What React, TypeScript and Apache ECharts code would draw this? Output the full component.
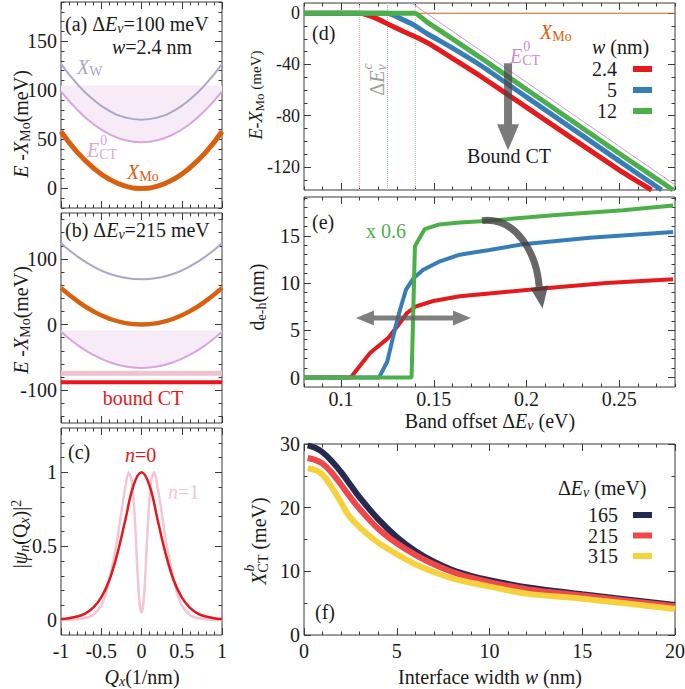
import React, { useEffect, useRef } from 'react';
import * as echarts from 'echarts';

const FONT = '"Liberation Serif", "DejaVu Serif", serif';
const INK = '#1a1a1a';
const FRAME = '#3a3a3a';

// ---------- (a)/(b): dispersions vs Q (1/nm), energies in meV ----------
const qGrid = [-1, -0.8, -0.6, -0.4, -0.2, 0, 0.2, 0.4, 0.6, 0.8, 1];
const aXMo = [58, 37, 21, 9.3, 2.3, 0, 2.3, 9.3, 21, 37, 58];
const aXW = [127, 106.5, 90.5, 79, 72.3, 70, 72.3, 79, 90.5, 106.5, 127];
const aECT = [99, 80.3, 65.7, 55.3, 49.1, 47, 49.1, 55.3, 65.7, 80.3, 99];
const aECTTop = 105;
const bXMo = [56, 36, 20.2, 9, 2.2, 0, 2.2, 9, 20.2, 36, 56];
const bXW = [124, 104, 88.5, 77.5, 71.2, 69, 71.2, 77.5, 88.5, 104, 124];
const bECT = [-11, -30.8, -46.2, -57.2, -63.8, -66, -63.8, -57.2, -46.2, -30.8, -11];
const bECTTop = -9;
const bBoundN1 = -74;
const bBoundN0 = -88;

// ---------- (c): |psi_n(Qx)|^2 ----------
const cQ0 = [-1, -0.9, -0.8, -0.7, -0.6, -0.5, -0.4, -0.3, -0.2, -0.1, 0, 0.1, 0.2, 0.3, 0.4, 0.5, 0.6, 0.7, 0.8, 0.9, 1];
const cN0 = [0.008, 0.014, 0.025, 0.045, 0.085, 0.155, 0.27, 0.45, 0.68, 0.91, 1, 0.91, 0.68, 0.45, 0.27, 0.155, 0.085, 0.045, 0.025, 0.014, 0.008];
const cQ1 = [-1, -0.9, -0.8, -0.7, -0.6, -0.5, -0.45, -0.4, -0.35, -0.3, -0.25, -0.2, -0.16, -0.12, -0.08, -0.05, -0.025, 0,
  0.025, 0.05, 0.08, 0.12, 0.16, 0.2, 0.25, 0.3, 0.35, 0.4, 0.45, 0.5, 0.6, 0.7, 0.8, 0.9, 1];
const cN1 = [0.002, 0.003, 0.006, 0.014, 0.035, 0.1, 0.17, 0.27, 0.4, 0.55, 0.73, 0.9, 1.0, 0.94, 0.66, 0.33, 0.12, 0.05,
  0.12, 0.33, 0.66, 0.94, 1.0, 0.9, 0.73, 0.55, 0.4, 0.27, 0.17, 0.1, 0.035, 0.014, 0.006, 0.003, 0.002];

// ---------- (d): E - X_Mo (meV) vs band offset (eV) ----------
const dWidths = ['2.4', '5', '12'];
const dColors = ['#e41a1c', '#377eb8', '#4daf4a'];
const dCritColors = ['#f4a3a3', '#9dbbdb', '#a3d39f'];
const dRedX = [0.08, 0.11, 0.119, 0.126, 0.134, 0.141, 0.15, 0.168, 0.175, 0.2, 0.25, 0.2674];
const dRedY = [0, 0, -4, -9, -14.5, -19, -26, -42.5, -49, -73.5, -122.5, -138];
const dBlueX = [0.08, 0.125, 0.1318, 0.139, 0.146, 0.1587, 0.1749, 0.2, 0.25, 0.2728];
const dBlueY = [0, 0, -4, -9, -15.6, -26, -40.4, -65.5, -115.5, -138];
const dGreenX = [0.08, 0.14, 0.146, 0.1749, 0.2, 0.25, 0.279];
const dGreenY = [0, 0, -6.5, -34.4, -59.5, -109.5, -138];
const dECTX = [0.136, 0.28];
const dECTY = [10, -134];
const dXMoX = [0.08, 0.28];
const dXMoY = [0, 0];
const dCrit = [0.11, 0.125, 0.14];

// ---------- (e): d_e-h (nm) vs band offset (eV) ----------
const eRed = [[0.08, 0], [0.1052, 0], [0.1156, 2.6], [0.1255, 4.2], [0.1318, 5.8], [0.1354, 6.8], [0.14, 7.5], [0.1497, 8.1],
  [0.164, 8.6], [0.18, 8.9], [0.207, 9.4], [0.243, 10.0], [0.279, 10.4]];
const eBlue = [[0.08, 0], [0.1204, 0], [0.1249, 1.7], [0.129, 5.1], [0.1318, 7.2], [0.135, 9.3], [0.139, 10.5], [0.1443, 11.4],
  [0.1533, 12.3], [0.164, 13.0], [0.18, 13.5], [0.198, 14.1], [0.234, 14.8], [0.279, 15.4]];
const eGreen = [[0.08, 0], [0.138, 0], [0.1398, 13.9], [0.145, 15.7], [0.153, 16.2], [0.164, 16.4], [0.18, 16.6],
  [0.216, 17.2], [0.252, 17.7], [0.279, 18.2]];

// ---------- (f): X_CT^b (meV) vs interface width (nm) ----------
const fOffsets = ['165', '215', '315'];
const fColors = ['#252b4f', '#f0474b', '#f6d13c'];
const fW = [0.2, 0.6, 1, 1.5, 2, 2.4, 3, 4, 5, 6, 7, 8, 9, 10, 12, 15, 20];
const f165 = [29.8, 29.4, 28.7, 27.3, 25.6, 24.0, 21.6, 18.2, 15.4, 13.2, 11.5, 10.2, 9.3, 8.6, 7.5, 6.4, 4.7];
const f215 = [27.8, 27.5, 26.9, 25.5, 23.6, 22.0, 19.8, 16.7, 14.4, 12.6, 11.1, 9.9, 9.0, 8.3, 7.2, 6.2, 4.5];
const f315 = [26.2, 25.9, 25.2, 23.2, 20.8, 18.8, 16.9, 14.5, 12.7, 11.1, 9.9, 8.9, 8.2, 7.6, 6.5, 5.7, 4.1];

// ---------- tick labels ----------
const ticksQ = [-1, -0.5, 0, 0.5, 1];
const yTicksA = [0, 50, 100, 150];
const yTicksB = [-100, 0, 100];
const yTicksC = [0, 0.5, 1];
const xTicksDE = [0.1, 0.15, 0.2, 0.25];
const yTicksD = [-120, -80, -40, 0];
const yTicksE = [0, 5, 10, 15];
const xTicksF = [0, 5, 10, 15, 20];
const yTicksF = [0, 10, 20, 30];

// ---------- annotation anchors (data coords) ----------
const arrowD = [[0.19, -39], [0.19, -107]];
const arrowEH = [[0.108, 6.3], [0.17, 6.3]];
const arrowECurve = [[0.176, 16.6], [0.195, 17.0], [0.2055, 13.0], [0.2068, 9.6]];
const arrowECurveTip = [0.2086, 7.3];

function range(a: number, b: number, step: number) {
  const out: number[] = [];
  const n = Math.round((b - a) / step);
  for (let i = 0; i <= n; i++) out.push(+(a + i * step).toFixed(6));
  return out;
}
const zip = (xs: number[], ys: number[]) => xs.map((x, i) => [x, ys[i]]);

type Ax = { min: number; max: number; major: number[]; minor: number[]; labels: boolean; fs: number; margin: number };
type Panel = { rect: { left: number; top: number; width: number; height: number }; x: Ax; y: Ax };

const qAx = (labels: boolean): Ax => ({ min: -1, max: 1, major: ticksQ, minor: range(-1, 1, 0.1), labels, fs: 20, margin: 6 });
const deAx = (labels: boolean): Ax => ({ min: 0.08, max: 0.28, major: xTicksDE, minor: range(0.08, 0.28, 0.01), labels, fs: 20, margin: 2 });

const PANELS: Panel[] = [
  { rect: { left: 61, top: 2, width: 161, height: 206 }, x: qAx(false),
    y: { min: -20, max: 190, major: yTicksA, minor: range(-20, 190, 10), labels: true, fs: 20, margin: 4 } },
  { rect: { left: 61, top: 213, width: 161, height: 210 }, x: qAx(false),
    y: { min: -150, max: 170, major: yTicksB, minor: range(-140, 160, 20), labels: true, fs: 20, margin: 4 } },
  { rect: { left: 61, top: 428, width: 161, height: 207 }, x: qAx(true),
    y: { min: -0.1, max: 1.3, major: yTicksC, minor: range(0, 1.2, 0.1), labels: true, fs: 20, margin: 4 } },
  { rect: { left: 304, top: 3, width: 371, height: 187 }, x: deAx(false),
    y: { min: -138, max: 8, major: yTicksD, minor: range(-130, 0, 10), labels: true, fs: 18, margin: 4 } },
  { rect: { left: 304, top: 197, width: 371, height: 190 }, x: deAx(true),
    y: { min: -1, max: 19.1, major: yTicksE, minor: range(0, 19, 1), labels: true, fs: 20, margin: 4 } },
  { rect: { left: 304, top: 444, width: 371, height: 191 },
    x: { min: 0, max: 20, major: xTicksF, minor: range(0, 20, 1), labels: true, fs: 20, margin: 6 },
    y: { min: 0, max: 30, major: yTicksF, minor: range(0, 30, 5), labels: true, fs: 20, margin: 4 } },
];

function buildAxes(dim: 'x' | 'y', gridIndex: number, s: Ax) {
  const sides = dim === 'x' ? ['bottom', 'top'] : ['left', 'right'];
  const res: any[] = [];
  sides.forEach((pos, si) => {
    [true, false].forEach((isMajor) => {
      res.push({
        type: 'value', gridIndex, min: s.min, max: s.max, position: pos, scale: true,
        axisLine: { show: false, onZero: false },
        splitLine: { show: false },
        minorTick: { show: false },
        axisTick: { show: true, inside: true, length: isMajor ? 7 : 3.5, customValues: isMajor ? s.major : s.minor,
          lineStyle: { color: FRAME, width: 1 } },
        axisLabel: { show: si === 0 && isMajor && s.labels, customValues: s.major, margin: s.margin,
          fontSize: s.fs, fontFamily: FONT, color: INK, hideOverlap: false },
        axisPointer: { show: false },
      });
    });
  });
  return res;
}

function ls(p: number, data: number[][], color: string, width: number, extra: any = {}) {
  return {
    type: 'line', xAxisIndex: 4 * p, yAxisIndex: 4 * p, data, symbol: 'none', showSymbol: false,
    lineStyle: { color, width }, itemStyle: { color }, emphasis: { disabled: true }, silent: true,
    animation: false, ...extra,
  };
}

const ORANGE = '#d9600f';
const GRAYW = '#a9a9c7';
const ORCHID = '#d7a6da';
const SHADE = '#f7ebf7';

function buildOption() {
  const xAxis: any[] = [];
  const yAxis: any[] = [];
  PANELS.forEach((p, i) => {
    xAxis.push(...buildAxes('x', i, p.x));
    yAxis.push(...buildAxes('y', i, p.y));
  });
  const series: any[] = [
    // (a)
    ls(0, zip(qGrid, aECT), SHADE, 0, { smooth: true, areaStyle: { color: SHADE, origin: aECTTop, opacity: 1 }, lineStyle: { width: 0, opacity: 0 } }),
    ls(0, zip(qGrid, aXW), GRAYW, 2, { smooth: true }),
    ls(0, zip(qGrid, aECT), ORCHID, 2, { smooth: true }),
    ls(0, zip(qGrid, aXMo), ORANGE, 5, { smooth: true }),
    // (b)
    ls(1, zip(qGrid, bECT), SHADE, 0, { smooth: true, areaStyle: { color: SHADE, origin: bECTTop, opacity: 1 }, lineStyle: { width: 0, opacity: 0 } }),
    ls(1, zip(qGrid, bXW), GRAYW, 2, { smooth: true }),
    ls(1, zip(qGrid, bECT), ORCHID, 2, { smooth: true }),
    ls(1, zip(qGrid, bXMo), ORANGE, 4.5, { smooth: true }),
    ls(1, zip([-1, 1], [bBoundN1, bBoundN1]), '#efc2d0', 5),
    ls(1, zip([-1, 1], [bBoundN0, bBoundN0]), '#e8151c', 4),
    // (c)
    ls(2, zip(cQ1, cN1), '#f2c6d3', 2.5, { smooth: 0.3 }),
    ls(2, zip(cQ0, cN0), '#e3171d', 2.5, { smooth: 0.4 }),
    // (d)
    ...dCrit.map((x, i) => ls(3, zip([x, x], [8, -138]), dCritColors[i], 1, { lineStyle: { color: dCritColors[i], width: 1, type: 'dotted' } })),
    ls(3, zip(dXMoX, dXMoY), ORANGE, 1),
    ls(3, zip(dECTX, dECTY), '#d095d6', 1),
    ls(3, zip(dRedX, dRedY), dColors[0], 5, { smooth: 0.2 }),
    ls(3, zip(dBlueX, dBlueY), dColors[1], 5, { smooth: 0.2 }),
    ls(3, zip(dGreenX, dGreenY), dColors[2], 5, { smooth: 0.1 }),
    // (e)
    ls(4, eRed, dColors[0], 4),
    ls(4, eBlue, dColors[1], 4),
    ls(4, eGreen, dColors[2], 4),
    // (f)
    ls(5, zip(fW, f165), fColors[0], 6, { smooth: 0.3 }),
    ls(5, zip(fW, f215), fColors[1], 6, { smooth: 0.3 }),
    ls(5, zip(fW, f315), fColors[2], 6, { smooth: 0.3 }),
  ];
  return {
    animation: false,
    backgroundColor: '#ffffff',
    textStyle: { fontFamily: FONT },
    grid: PANELS.map((p) => ({ ...p.rect, show: true, borderColor: FRAME, borderWidth: 1, backgroundColor: 'rgba(0,0,0,0)', containLabel: false, outerBoundsMode: 'none' })),
    xAxis, yAxis, series,
    tooltip: { show: false },
  };
}

function rich(fs: number, color: string) {
  const sub = Math.round(fs * 0.7);
  const base = { fontFamily: FONT, fill: color, color };
  return {
    n: { ...base, fontSize: fs, lineHeight: Math.round(fs * 1.1) },
    i: { ...base, fontSize: fs, fontStyle: 'italic', lineHeight: Math.round(fs * 1.1) },
    s: { ...base, fontSize: Math.round(fs * 0.82), lineHeight: Math.round(fs * 1.1) },
    sub: { ...base, fontSize: sub, lineHeight: Math.round(fs * 0.5), verticalAlign: 'bottom' },
    isub: { ...base, fontSize: sub, fontStyle: 'italic', lineHeight: Math.round(fs * 0.5), verticalAlign: 'bottom' },
    sup: { ...base, fontSize: sub, lineHeight: Math.round(fs * 0.5), verticalAlign: 'top' },
  };
}

function txt(x: number, y: number, text: string, o: any = {}) {
  const fs = o.fs ?? 20;
  const color = o.color ?? INK;
  return {
    type: 'text', x, y, rotation: o.rot ?? 0, silent: true, z: 100,
    style: { text, rich: rich(fs, color), fill: color, fontFamily: FONT, fontSize: fs, align: o.align ?? 'left', verticalAlign: 'middle' },
  };
}

let measureCtx: CanvasRenderingContext2D | null = null;
function tw(s: string, fs: number, italic = false) {
  if (!measureCtx) measureCtx = document.createElement('canvas').getContext('2d');
  if (!measureCtx) return s.length * fs * 0.5;
  measureCtx.font = `${italic ? 'italic ' : ''}${fs}px ${FONT}`;
  return measureCtx.measureText(s).width;
}

function arrowPoly(a: number[], b: number[], sw: number, hw: number, hl: number, both: boolean) {
  const dx = b[0] - a[0], dy = b[1] - a[1];
  const L = Math.hypot(dx, dy) || 1;
  const ux = dx / L, uy = dy / L, nx = -uy, ny = ux;
  const P = (p: number[], t: number, s: number) => [p[0] + ux * t + nx * s, p[1] + uy * t + ny * s];
  if (both) {
    return [a, P(a, hl, hw / 2), P(a, hl, sw / 2), P(b, -hl, sw / 2), P(b, -hl, hw / 2), b,
      P(b, -hl, -hw / 2), P(b, -hl, -sw / 2), P(a, hl, -sw / 2), P(a, hl, -hw / 2)];
  }
  return [P(a, 0, sw / 2), P(b, -hl, sw / 2), P(b, -hl, hw / 2), b, P(b, -hl, -hw / 2), P(b, -hl, -sw / 2), P(a, 0, -sw / 2)];
}

function ectLabel(x: number, y: number, color: string) {
  const wE = tw('E', 20, true);
  return [
    txt(x, y, '{i|E}{sub|CT}', { color }),
    txt(x + wE + 1, y - 10, '{n|0}', { color, fs: 14 }),
  ];
}

function buildGraphics(chart: any) {
  const px = (p: number, v: number[]) => chart.convertToPixel({ xAxisIndex: 4 * p, yAxisIndex: 4 * p }, v) as number[];
  const els: any[] = [];
  const R90 = Math.PI / 2;

  // axis titles
  els.push(txt(21, 124, '{i|E}{n| -}{i|X}{sub|Mo}{n|(meV)}', { align: 'center', rot: R90 }));
  els.push(txt(21, 320, '{i|E}{n| -}{i|X}{sub|Mo}{n|(meV)}', { align: 'center', rot: R90 }));
  els.push(txt(20, 534, '{n||}{i|ψ}{isub|n}{n|(Q}{isub|x}{n|)|}{sup|2}', { align: 'center', rot: R90 }));
  els.push(txt(142, 677, '{i|Q}{isub|x}{n|(1/nm)}', { align: 'center' }));
  els.push(txt(256, 95, '{i|E}{n|-}{i|X}{sub|Mo}{s| (meV)}', { align: 'center', rot: R90, fs: 18 }));
  els.push(txt(257, 297, '{n|d}{sub|e-h}{n|(nm)}', { align: 'center', rot: R90 }));
  els.push(txt(490, 421, '{n|Band offset Δ}{i|E}{isub|v}{n| (eV)}', { align: 'center' }));
  els.push(txt(490, 677, '{n|Interface width }{i|w}{n| (nm)}', { align: 'center' }));
  {
    const W = tw('X', 20, true) + tw('CT', 14) + tw(' (meV)', 20);
    els.push({
      type: 'group', x: 259, y: 541, rotation: R90, children: [
        txt(0, 0, '{i|X}{sub|CT}{n| (meV)}', { align: 'center' }),
        txt(-W / 2 + tw('X', 20, true) + 1, -10, '{i|b}', { fs: 14 }),
      ],
    });
  }

  // (a)
  els.push(txt(65, 24, '{n|(a) Δ}{i|E}{isub|v}{n|=100 meV}'));
  els.push(txt(112, 47, '{i|w}{n|=2.4 nm}'));
  els.push(txt(77, 67, '{i|X}{sub|W}', { color: GRAYW }));
  els.push(...ectLabel(87, 150, ORCHID));
  els.push(txt(127, 172, '{i|X}{sub|Mo}', { color: ORANGE }));
  // (b)
  els.push(txt(65, 230, '{n|(b) Δ}{i|E}{isub|v}{n|=215 meV}'));
  els.push(txt(143, 398, '{n|bound CT}', { color: '#e8151c', align: 'center' }));
  // (c)
  els.push(txt(68, 452, '{n|(c)}'));
  els.push(txt(125, 455, '{i|n}{n|=0}', { color: '#e3171d' }));
  els.push(txt(168, 492, '{i|n}{n|=1}', { color: '#f2c6d3' }));
  // (d)
  els.push(txt(312, 33, '{n|(d)}'));
  els.push(txt(540, 32, '{i|X}{sub|Mo}', { color: ORANGE }));
  els.push(...ectLabel(510, 56, '#c98ccf'));
  els.push(txt(592, 47, '{i|w}{n| (nm)}'));
  dWidths.forEach((w, i) => {
    const y = 69 + i * 21;
    els.push(txt(617, y, `{n|${w}}`, { align: 'right' }));
    els.push({ type: 'line', z: 100, silent: true, shape: { x1: 633, y1: y, x2: 652, y2: y }, style: { stroke: dColors[i], lineWidth: 6 } });
  });
  {
    const W = tw('Δ', 20) + tw('E', 20, true) + tw('v', 14, true);
    els.push({
      type: 'group', x: 377, y: 80, rotation: R90, children: [
        txt(0, 0, '{n|Δ}{i|E}{isub|v}', { align: 'center', color: '#9c9c9c' }),
        txt(-W / 2 + tw('Δ', 20) + tw('E', 20, true) + 1, -10, '{i|c}', { fs: 14, color: '#9c9c9c' }),
      ],
    });
  }
  {
    const a = px(3, arrowD[0]), b = px(3, arrowD[1]);
    els.push({ type: 'polygon', z: 99, silent: true, shape: { points: arrowPoly(a, b, 8, 22, 26, false) }, style: { fill: 'rgba(70,70,70,0.72)' } });
  }
  els.push(txt(509, 156, '{n|Bound CT}', { align: 'center' }));
  // (e)
  els.push(txt(312, 222, '{n|(e)}'));
  els.push(txt(366, 231, '{n|x 0.6}', { color: dColors[2] }));
  {
    const a = px(4, arrowEH[0]), b = px(4, arrowEH[1]);
    els.push({ type: 'polygon', z: 99, silent: true, shape: { points: arrowPoly(a, b, 5, 15, 18, true) }, style: { fill: 'rgba(95,95,95,0.8)' } });
    const [p0, c1, c2, p3] = arrowECurve.map((v) => px(4, v));
    const tip = px(4, arrowECurveTip);
    els.push({ type: 'bezierCurve', z: 99, silent: true,
      shape: { x1: p0[0], y1: p0[1], cpx1: c1[0], cpy1: c1[1], cpx2: c2[0], cpy2: c2[1], x2: p3[0], y2: p3[1] },
      style: { stroke: 'rgba(60,60,60,0.78)', lineWidth: 7, fill: 'none' } });
    const dx = tip[0] - p3[0], dy = tip[1] - p3[1];
    const L = Math.hypot(dx, dy) || 1;
    const nx = -dy / L, ny = dx / L;
    els.push({ type: 'polygon', z: 99, silent: true,
      shape: { points: [tip, [p3[0] + nx * 9, p3[1] + ny * 9], [p3[0] - nx * 9, p3[1] - ny * 9]] },
      style: { fill: 'rgba(60,60,60,0.78)' } });
  }
  // (f)
  els.push(txt(315, 612, '{n|(f)}'));
  els.push(txt(558, 488, '{n|Δ}{i|E}{isub|v}{n| (meV)}'));
  fOffsets.forEach((o, i) => {
    const y = 515 + i * 20.5;
    els.push(txt(618, y, `{n|${o}}`, { align: 'right' }));
    els.push({ type: 'line', z: 100, silent: true, shape: { x1: 633, y1: y, x2: 652, y2: y }, style: { stroke: fColors[i], lineWidth: 6 } });
  });
  return els;
}

export default function App() {
  const ref = useRef<HTMLDivElement>(null);
  useEffect(() => {
    if (!ref.current) return;
    document.body.style.margin = '0';
    const chart = echarts.init(ref.current, null, { renderer: 'svg' });
    chart.setOption(buildOption() as any);
    chart.setOption({ graphic: { elements: buildGraphics(chart) } } as any);
    return () => chart.dispose();
  }, []);
  return (
    <div
      ref={ref}
      style={{ position: 'relative', width: 685, height: 689, background: '#fff' }}
    />
  );
}
